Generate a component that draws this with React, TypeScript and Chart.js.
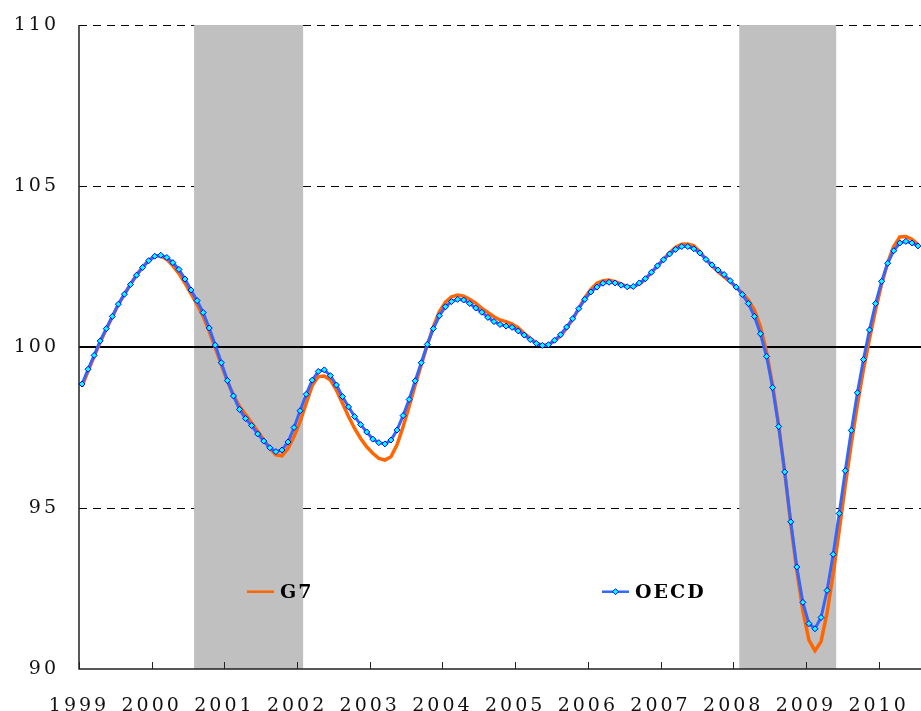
import React, { useEffect, useRef } from "react";
import { Chart, registerables } from "chart.js";

Chart.register(...registerables);

// Monthly composite leading indicators, Jan 1999 .. Jul 2010
const yearLabels = ["1999", "2000", "2001", "2002", "2003", "2004", "2005", "2006", "2007", "2008", "2009", "2010"];
const yTicks = [90, 95, 100, 105, 110];
const dashedLevels = [95, 105, 110];
const baseLevel = 100;
// recession shading, in months since Jan 1999
const recessionStart = [19, 109];
const recessionEnd = [37, 125];

const seriesNames = ["G7", "OECD"];

const g7 = [
  98.78, 99.25, 99.70, 100.15, 100.55, 100.93, 101.32, 101.64, 101.95, 102.24, 102.48, 102.69,
  102.82, 102.83, 102.72, 102.52, 102.28, 101.98, 101.65, 101.32, 100.95, 100.48, 99.97, 99.44,
  98.93, 98.50, 98.16, 97.90, 97.65, 97.38, 97.12, 96.86, 96.65, 96.62, 96.85, 97.22,
  97.68, 98.25, 98.80, 99.08, 99.10, 98.97, 98.66, 98.25, 97.84, 97.47, 97.16, 96.90,
  96.70, 96.54, 96.49, 96.59, 96.96, 97.52, 98.15, 98.82, 99.44, 100.06, 100.63, 101.10,
  101.39, 101.56, 101.61, 101.58, 101.48, 101.36, 101.20, 101.07, 100.94, 100.84, 100.79, 100.71,
  100.60, 100.42, 100.27, 100.13, 100.05, 100.07, 100.19, 100.34, 100.58, 100.86, 101.20, 101.53,
  101.79, 101.98, 102.06, 102.08, 102.03, 101.96, 101.87, 101.87, 101.96, 102.10, 102.31, 102.52,
  102.73, 102.93, 103.10, 103.19, 103.20, 103.14, 102.96, 102.72, 102.52, 102.34, 102.18, 102.03,
  101.85, 101.68, 101.46, 101.15, 100.63, 99.85, 98.82, 97.58, 96.12, 94.50, 93.05, 91.80,
  90.90, 90.57, 90.85, 91.75, 92.95, 94.30, 95.70, 97.00, 98.20, 99.30, 100.25, 101.15,
  101.95, 102.62, 103.12, 103.42, 103.43, 103.35, 103.18,
];

const oecd = [
  98.85, 99.31, 99.74, 100.19, 100.57, 100.95, 101.33, 101.64, 101.94, 102.23, 102.47, 102.68,
  102.82, 102.85, 102.78, 102.62, 102.41, 102.11, 101.77, 101.44, 101.07, 100.59, 100.06, 99.51,
  98.96, 98.48, 98.06, 97.78, 97.56, 97.30, 97.08, 96.87, 96.75, 96.80, 97.05, 97.50,
  98.02, 98.53, 98.97, 99.24, 99.29, 99.11, 98.82, 98.46, 98.14, 97.84, 97.59, 97.36,
  97.14, 97.03, 96.99, 97.11, 97.42, 97.87, 98.37, 98.95, 99.51, 100.08, 100.57, 100.97,
  101.25, 101.41, 101.48, 101.46, 101.35, 101.21, 101.08, 100.92, 100.79, 100.70, 100.65, 100.61,
  100.50, 100.37, 100.23, 100.11, 100.05, 100.07, 100.21, 100.38, 100.62, 100.88, 101.19, 101.48,
  101.71, 101.86, 101.98, 102.01, 101.99, 101.92, 101.87, 101.88, 101.99, 102.12, 102.32, 102.52,
  102.71, 102.89, 103.03, 103.12, 103.12, 103.05, 102.92, 102.72, 102.55, 102.39, 102.25, 102.06,
  101.86, 101.63, 101.35, 100.95, 100.41, 99.71, 98.74, 97.53, 96.12, 94.57, 93.17, 92.07,
  91.41, 91.25, 91.60, 92.44, 93.56, 94.83, 96.16, 97.41, 98.58, 99.61, 100.53, 101.35,
  102.04, 102.60, 102.99, 103.23, 103.28, 103.23, 103.14,
];

const ORANGE = "#FF6600";
const BLUE = "#3366FF";
const FONT = "'DejaVu Serif', serif";

const toPoints = (arr: number[]) => arr.map((v, i) => ({ x: i + 0.5, y: v }));

const decor = {
  id: "decor",
  beforeDraw(chart: any) {
    chart.ctx.letterSpacing = "3px";
  },
  beforeDatasetsDraw(chart: any) {
    const { ctx, chartArea: a, scales } = chart;
    const x = scales.x;
    const y = scales.y;
    ctx.save();
    // dashed gridlines
    ctx.strokeStyle = "#000";
    ctx.lineWidth = 1;
    ctx.setLineDash([8, 6]);
    for (const v of dashedLevels) {
      const py = Math.round(y.getPixelForValue(v)) + 0.5;
      ctx.beginPath();
      ctx.moveTo(a.left, py);
      ctx.lineTo(a.right, py);
      ctx.stroke();
    }
    ctx.setLineDash([]);
    // recession bands
    ctx.fillStyle = "#C0C0C0";
    for (let k = 0; k < recessionStart.length; k++) {
      const x0 = x.getPixelForValue(recessionStart[k]);
      const x1 = x.getPixelForValue(recessionEnd[k]);
      ctx.fillRect(x0, a.top, x1 - x0, a.bottom - a.top);
    }
    // baseline 100
    const p100 = Math.round(y.getPixelForValue(baseLevel));
    ctx.lineWidth = 2;
    ctx.strokeStyle = "#000";
    ctx.beginPath();
    ctx.moveTo(a.left, p100);
    ctx.lineTo(a.right, p100);
    ctx.stroke();
    // axes
    ctx.lineWidth = 1.5;
    ctx.strokeStyle = "#222";
    ctx.beginPath();
    ctx.moveTo(a.left, a.top);
    ctx.lineTo(a.left, a.bottom);
    ctx.lineTo(a.right, a.bottom);
    ctx.stroke();
    // inward tick marks
    ctx.lineWidth = 1;
    for (let k = 0; k < yearLabels.length; k++) {
      const px = Math.round(x.getPixelForValue(k * 12)) + 0.5;
      ctx.beginPath();
      ctx.moveTo(px, a.bottom);
      ctx.lineTo(px, a.bottom - 7);
      ctx.stroke();
    }
    ctx.restore();
  },
  afterDraw(chart: any) {
    const { ctx, chartArea: a } = chart;
    ctx.save();
    const ly = a.top + (a.bottom - a.top) * 0.88;
    const items = [
      { name: seriesNames[0], color: ORANGE, x0: 247, marker: false },
      { name: seriesNames[1], color: BLUE, x0: 602, marker: true },
    ];
    for (const it of items) {
      ctx.strokeStyle = it.color;
      ctx.lineWidth = 2.5;
      ctx.beginPath();
      ctx.moveTo(it.x0, ly);
      ctx.lineTo(it.x0 + 27, ly);
      ctx.stroke();
      if (it.marker) {
        const cx = it.x0 + 13.5;
        ctx.fillStyle = "#00FFFF";
        ctx.strokeStyle = "#0000FF";
        ctx.lineWidth = 1;
        ctx.beginPath();
        ctx.moveTo(cx, ly - 3);
        ctx.lineTo(cx + 3, ly);
        ctx.lineTo(cx, ly + 3);
        ctx.lineTo(cx - 3, ly);
        ctx.closePath();
        ctx.fill();
        ctx.stroke();
      }
      ctx.fillStyle = "#000";
      ctx.font = "bold 19px " + FONT;
      ctx.letterSpacing = "2px";
      ctx.textAlign = "left";
      ctx.textBaseline = "middle";
      ctx.fillText(it.name, it.x0 + 33, ly + 1);
    }
    ctx.restore();
  },
};

export default function App() {
  const ref = useRef<HTMLCanvasElement | null>(null);

  useEffect(() => {
    if (!ref.current) return;
    const chart = new Chart(ref.current, {
      type: "line",
      data: {
        datasets: [
          {
            label: seriesNames[1],
            data: toPoints(oecd),
            borderColor: BLUE,
            borderWidth: 3,
            pointStyle: "rectRot",
            pointRadius: 3,
            pointBackgroundColor: "#00FFFF",
            pointBorderColor: "#0000FF",
            pointBorderWidth: 1,
            tension: 0,
            order: 0,
          },
          {
            label: seriesNames[0],
            data: toPoints(g7),
            borderColor: ORANGE,
            borderWidth: 3.5,
            pointRadius: 0,
            tension: 0,
            order: 1,
          },
        ],
      },
      options: {
        animation: false,
        responsive: false,
        devicePixelRatio: 1,
        layout: { autoPadding: false, padding: { top: 25, right: 0, left: 0, bottom: 0 } },
        plugins: { legend: { display: false }, tooltip: { enabled: false } },
        scales: {
          x: {
            type: "linear",
            min: 0,
            max: 139,
            grid: { display: false, drawTicks: false },
            border: { display: false },
            afterFit: (s: any) => {
              s.height = 42;
              s.paddingLeft = 0;
              s.paddingRight = 0;
            },
            afterBuildTicks: (s: any) => {
              s.ticks = yearLabels.map((_, k) => ({ value: k * 12 }));
            },
            ticks: {
              autoSkip: false,
              maxRotation: 0,
              padding: 26,
              color: "#111",
              font: { family: FONT, size: 19 },
              callback: (v: any) => yearLabels[Math.round(Number(v) / 12)],
            },
          },
          y: {
            min: 90,
            max: 110,
            grid: { display: false, drawTicks: false },
            border: { display: false },
            afterFit: (s: any) => {
              s.width = 79;
              s.paddingTop = 0;
              s.paddingBottom = 0;
            },
            afterBuildTicks: (s: any) => {
              s.ticks = yTicks.map((v) => ({ value: v }));
            },
            ticks: {
              padding: 20,
              color: "#111",
              font: { family: FONT, size: 19 },
            },
          },
        },
      },
      plugins: [decor],
    });
    return () => chart.destroy();
  }, []);

  return (
    <canvas
      ref={ref}
      width={921}
      height={711}
      style={{ position: "fixed", left: 0, top: 0, width: 921, height: 711 }}
    />
  );
}
